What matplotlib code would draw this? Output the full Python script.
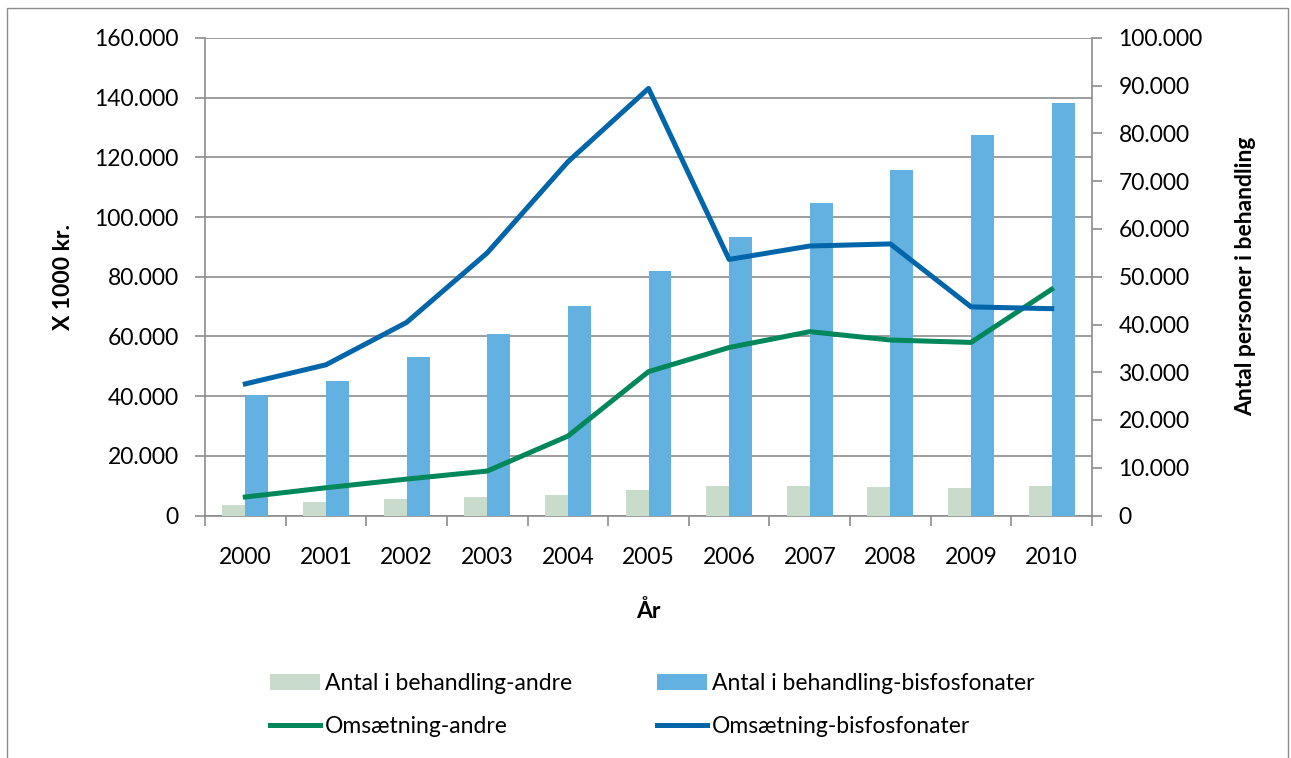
import matplotlib
matplotlib.use("Agg")
import matplotlib.pyplot as plt
from matplotlib.patches import Rectangle
from matplotlib.ticker import FuncFormatter, MultipleLocator
import numpy as np

plt.rcParams['font.family'] = ['Lato', 'DejaVu Sans']

years = ["2000", "2001", "2002", "2003", "2004", "2005",
         "2006", "2007", "2008", "2009", "2010"]

# antal personer i behandling (højre akse)
antal_andre = [2100, 2900, 3500, 3900, 4300, 5300, 6200, 6200, 6000, 5800, 6200]
antal_bisfos = [25200, 28200, 33200, 38000, 43900, 51300, 58400, 65500, 72300, 79600, 86300]

# omsætning i 1000 kr. (venstre akse)
oms_andre = [6200, 9300, 12200, 14900, 26600, 48200, 56300, 61600, 58800, 58000, 75800]
oms_bisfos = [44100, 50500, 64700, 88000, 118500, 143100, 85800, 90300, 91000, 69900, 69300]

c_bar_andre = "#C9DBCB"
c_bar_bisfos = "#63B1E0"
c_line_andre = "#00875A"
c_line_bisfos = "#0065A9"
c_axis = "#8C8C8C"
fs = 16.5


def dot_fmt(v, pos):
    return f"{int(round(v)):,}".replace(",", ".")


fig = plt.figure(figsize=(12.91, 7.58), dpi=100)
rect = [205 / 1291, 1 - 515.5 / 758, 887 / 1291, 477.5 / 758]

# venstre akse: gitter og tal
ax = fig.add_axes(rect)
ax.set_zorder(0)
x = np.arange(len(years))
ax.set_xlim(-0.5, len(years) - 0.5)
ax.set_ylim(0, 160000)
ax.yaxis.set_major_locator(MultipleLocator(20000))
ax.yaxis.set_major_formatter(FuncFormatter(dot_fmt))
ax.grid(axis='y', color=c_axis, lw=1.2)
ax.set_axisbelow(True)
ax.set_xticks(x)
ax.set_xticklabels(years)
ax.set_xticks(np.arange(-0.5, len(years)), minor=True)
ax.tick_params(axis='x', which='major', length=0, pad=23, labelsize=fs)
ax.tick_params(axis='x', which='minor', length=7, width=1.2, color=c_axis)
ax.tick_params(axis='y', length=7, width=1.2, color=c_axis, pad=12, labelsize=fs)
for s in ["top", "right"]:
    ax.spines[s].set_visible(False)
for s in ["left", "bottom"]:
    ax.spines[s].set_color(c_axis)
    ax.spines[s].set_linewidth(1.2)
ax.set_ylabel("X 1000 kr.", fontsize=fs, fontweight='bold')
ax.yaxis.set_label_coords(-0.148, 0.5)
ax.set_xlabel("År", fontsize=fs, fontweight='bold')
ax.xaxis.set_label_coords(0.5, -0.176)

# højre akse: søjler
ax2 = ax.twinx()
ax2.set_zorder(1)
ax2.patch.set_visible(False)
w = 0.285
ax2.bar(x - w / 2, antal_andre, w, color=c_bar_andre, label="Antal i behandling-andre")
ax2.bar(x + w / 2, antal_bisfos, w, color=c_bar_bisfos, label="Antal i behandling-bisfosfonater")
ax2.set_ylim(0, 100000)
ax2.yaxis.set_major_locator(MultipleLocator(10000))
ax2.yaxis.set_major_formatter(FuncFormatter(dot_fmt))
ax2.tick_params(axis='y', length=7, width=1.2, color=c_axis, pad=12, labelsize=fs)
for s in ["top", "left", "bottom"]:
    ax2.spines[s].set_visible(False)
ax2.spines["right"].set_color(c_axis)
ax2.spines["right"].set_linewidth(1.2)
ax2.set_ylabel("Antal personer i behandling", fontsize=fs, fontweight='bold')
ax2.yaxis.set_label_coords(1.161, 0.5)

# linjer øverst, på venstre skala
ax3 = fig.add_axes(rect, sharex=ax, sharey=ax)
ax3.set_zorder(2)
ax3.patch.set_visible(False)
ax3.axis('off')
ax3.plot(x, oms_andre, color=c_line_andre, lw=3.6, label="Omsætning-andre")
ax3.plot(x, oms_bisfos, color=c_line_bisfos, lw=3.6, label="Omsætning-bisfosfonater")

h2, l2 = ax2.get_legend_handles_labels()
h3, l3 = ax3.get_legend_handles_labels()
handles = [h2[0], h3[0], h2[1], h3[1]]
labels = [l2[0], l3[0], l2[1], l3[1]]
fig.legend(handles, labels, ncol=2, loc='upper left',
           bbox_to_anchor=(270 / 1291, 1 - 673 / 758), frameon=False,
           fontsize=fs, handlelength=2.2, handleheight=0.7, handletextpad=0.2,
           columnspacing=3.7, labelspacing=0.95, borderpad=0, borderaxespad=0)

fig.patches.append(Rectangle((7 / 1291, -0.05), (1288 - 7) / 1291, 1.05 - 8 / 758,
                             transform=fig.transFigure, fill=False,
                             edgecolor="#8C8C8C", lw=1.0))

fig.savefig("out.png", dpi=100)
